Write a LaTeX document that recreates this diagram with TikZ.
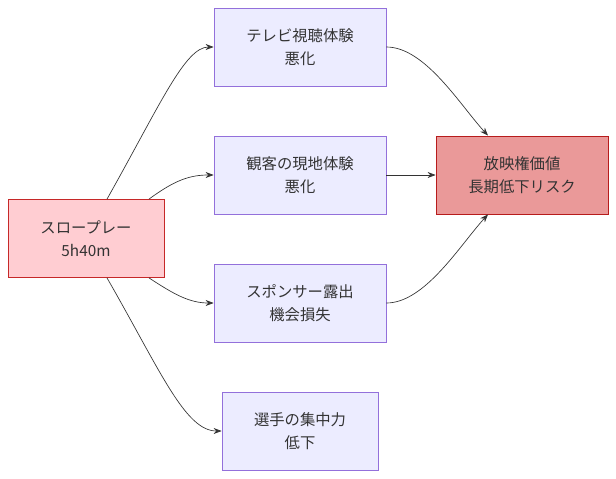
\documentclass[tikz,border=0pt]{standalone}
\usepackage{fontspec}
\setmainfont{Noto Sans CJK JP}
\usetikzlibrary{arrows.meta}
\definecolor{boxfill}{HTML}{ECECFF}
\definecolor{boxline}{HTML}{9370DB}
\definecolor{slowfill}{HTML}{FFCDD2}
\definecolor{slowline}{HTML}{C62828}
\definecolor{riskfill}{HTML}{EA9999}
\definecolor{riskline}{HTML}{B71C1C}
\tikzset{
  box/.style={draw=boxline, fill=boxfill, minimum width=129pt, minimum height=58.5pt, align=center, font=\fontsize{11.5}{17}\selectfont, text=black!80, line width=0.6pt},
  slowbox/.style={box, draw=slowline, fill=slowfill, minimum width=117pt},
  riskbox/.style={box, draw=riskline, fill=riskfill},
  link/.style={draw=black!80, line width=0.5pt, -{Stealth[length=6pt,width=4.5pt]}}
}
\begin{document}
\begin{tikzpicture}[x=0.75pt, y=-0.75pt]
				\useasboundingbox (0,0) rectangle (616,478);
				
				\node[slowbox] (slow) at (86,238.5) {スロープレー\\5h40m};
				\node[box] (tv) at (300,47) {テレビ視聴体験\\悪化};
				\node[box] (kankyaku) at (300,175) {観客の現地体験\\悪化};
				\node[box] (sponsor) at (300,303) {スポンサー露出\\機会損失};
				\node[box, minimum width=117pt] (senshu) at (300,431) {選手の集中力\\低下};
				\node[riskbox] (houei) at (522,175) {放映権価値\\長期低下リスク};
				
				\draw[link] ([xshift=15.75pt]slow.north) .. controls (160,105) and (185,47) .. (tv.west);
				\draw[link] ([xshift=47.25pt]slow.north) .. controls (175,180) and (190,175) .. (kankyaku.west);
				\draw[link] ([xshift=47.25pt]slow.south) .. controls (175,295) and (190,303) .. (sponsor.west);
				\draw[link] ([xshift=15.75pt]slow.south) .. controls (160,370) and (185,431) .. (senshu.west);
				
				\draw[link] (tv.east) .. controls (425,47) and (460,105) .. ([xshift=-25.5pt]houei.north);
				\draw[link] (kankyaku.east) -- (houei.west);
				\draw[link] (sponsor.east) .. controls (425,303) and (460,245) .. ([xshift=-25.5pt]houei.south);
\end{tikzpicture}
\end{document}
